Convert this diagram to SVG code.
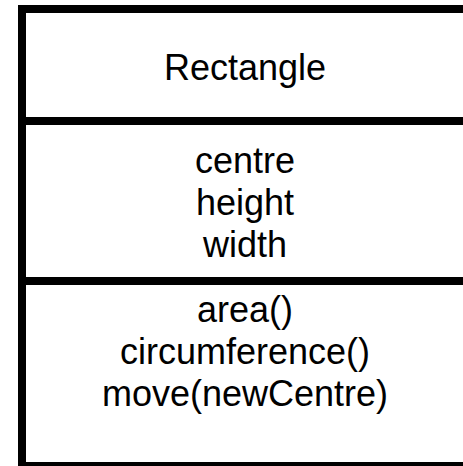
<svg xmlns="http://www.w3.org/2000/svg" width="463" height="466" viewBox="0 0 463 466">
<style>
.box{fill:#fff;stroke:#000;stroke-width:8}
.div{stroke:#000;stroke-width:8}
text{font-family:"Liberation Sans",Arial,sans-serif;font-size:36px;fill:#000;text-anchor:middle}
</style>
<rect width="463" height="466" fill="#fff"/>
<g id="Rectangle">
<rect class="box" x="22" y="9" width="460" height="457"/>
<line class="div" x1="22" y1="121" x2="482" y2="121"/>
<line class="div" x1="22" y1="281" x2="482" y2="281"/>
<text x="245" y="80">Rectangle</text>
<text x="245" y="173">centre</text>
<text x="245" y="215">height</text>
<text x="245" y="257">width</text>
<text x="245" y="322">area()</text>
<text x="245" y="364">circumference()</text>
<text x="245" y="406">move(newCentre)</text>
</g>
<g id="connectors"/>
</svg>
